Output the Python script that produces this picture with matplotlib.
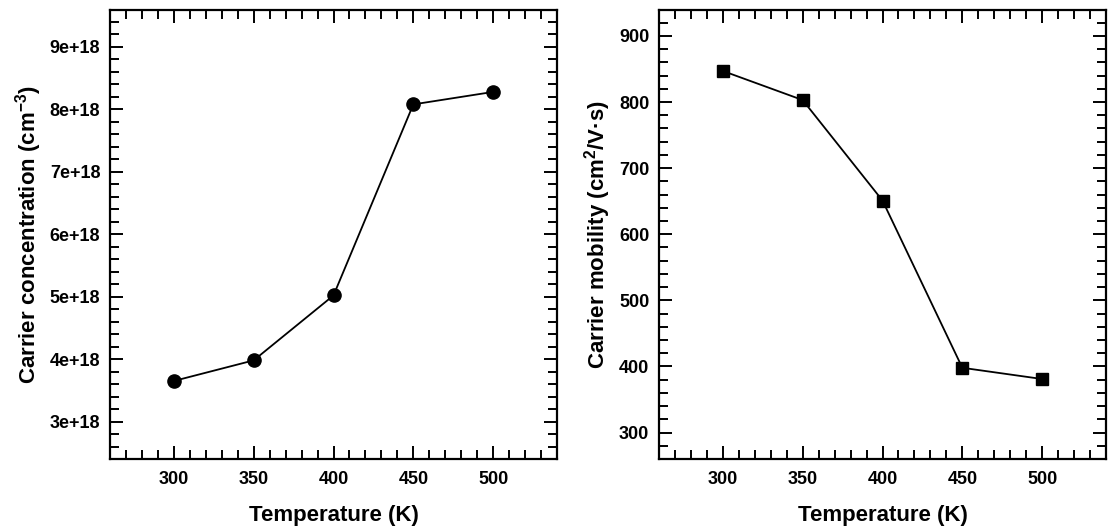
import matplotlib
matplotlib.use("Agg")
import matplotlib.pyplot as plt
from matplotlib.ticker import MultipleLocator, FuncFormatter

plt.rcParams['font.family'] = ['Liberation Sans', 'DejaVu Sans']
plt.rcParams['mathtext.fontset'] = 'custom'
plt.rcParams['mathtext.rm'] = 'Liberation Sans:bold'
plt.rcParams['mathtext.it'] = 'Liberation Sans:bold'
plt.rcParams['mathtext.bf'] = 'Liberation Sans:bold'

temperature = [300, 350, 400, 450, 500]
concentration = [3.65e18, 3.98e18, 5.02e18, 8.08e18, 8.28e18]
mobility = [847, 803, 651, 398, 381]
x_ticks = [300, 350, 400, 450, 500]
conc_ticks = [3e18, 4e18, 5e18, 6e18, 7e18, 8e18, 9e18]
mob_ticks = [300, 400, 500, 600, 700, 800, 900]

W, H = 1108, 532
fig = plt.figure(figsize=(W / 100, H / 100), dpi=100)

def rect(x0, y0, x1, y1):
    return [x0 / W, 1 - y1 / H, (x1 - x0) / W, (y1 - y0) / H]

ax1 = fig.add_axes(rect(110, 9.5, 557, 459))
ax2 = fig.add_axes(rect(659, 9.5, 1106, 459))

TICKFS = 13

def style(ax, yticks):
    for s in ax.spines.values():
        s.set_linewidth(1.6)
    ax.set_xlim(260, 540)
    ax.set_xticks(x_ticks)
    ax.xaxis.set_minor_locator(MultipleLocator(10))
    ax.set_yticks(yticks)
    ax.tick_params(which='both', direction='in', top=True, right=True, width=1.4)
    ax.tick_params(which='major', length=9.5, pad=7)
    ax.tick_params(axis='x', which='major', pad=9)
    ax.tick_params(which='minor', length=6.5)
    for lab in ax.get_xticklabels() + ax.get_yticklabels():
        lab.set_fontweight('bold')
        lab.set_fontsize(TICKFS)
    ax.set_xlabel('Temperature (K)', fontsize=16, fontweight='bold', labelpad=12)

ax1.plot(temperature, concentration, color='black', lw=1.3, marker='o',
         markersize=9.5)
ax1.set_ylim(2.4e18, 9.6e18)
ax1.yaxis.set_minor_locator(MultipleLocator(0.2e18))
ax1.yaxis.set_major_formatter(FuncFormatter(lambda v, p: f"{int(round(v / 1e18))}e+18"))
style(ax1, conc_ticks)
ax1.set_ylim(2.4e18, 9.6e18)
ax1.set_ylabel('Carrier concentration (cm$^{-3}$)', fontsize=16, fontweight='bold',
               labelpad=4)

ax2.plot(temperature, mobility, color='black', lw=1.3, marker='s',
         markersize=8.5)
ax2.set_ylim(260, 940)
ax2.yaxis.set_minor_locator(MultipleLocator(20))
style(ax2, mob_ticks)
ax2.set_ylim(260, 940)
ax2.set_ylabel('Carrier mobility (cm$^{2}$/V·s)', fontsize=16, fontweight='bold',
               labelpad=4)

fig.savefig('out.png', dpi=100)
